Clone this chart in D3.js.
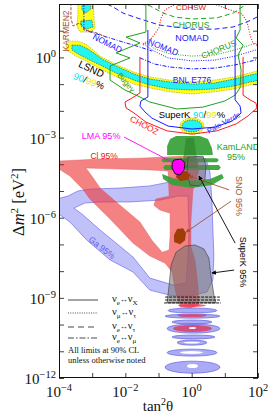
<!DOCTYPE html>
<html><head><meta charset="utf-8">
<script src="https://cdn.jsdelivr.net/npm/d3@7"></script>
<style>
html,body{margin:0;padding:0;background:#fff;}
svg{display:block;}
</style></head><body>
<svg id="c" width="268" height="417"></svg>
<script>
// ---- DATA: all pairs are [log10(tan^2 theta), log10(dm^2 / eV^2)] ----
const xTickExps = [-4, -2, 0, 2];
const yTickExps = [-12, -9, -6, -3, 0];

const lsnd99 = [[-3.79,0.46],[-3.67,0.61],[-3.43,0.61],[-3.19,0.50],[-2.97,0.28],[-2.76,0.05],[-2.31,-0.25],[-1.74,-0.55],[-1.26,-0.73],[-0.65,-0.85],[0.01,-0.92],[0.67,-0.85],[1.28,-0.73],[1.76,-0.58],[2.05,-0.47],[2.05,-0.96],[1.76,-1.03],[1.28,-1.18],[0.67,-1.29],[0.01,-1.37],[-0.65,-1.29],[-1.26,-1.14],[-1.74,-1.00],[-2.31,-0.70],[-2.76,-0.43],[-3.19,-0.13],[-3.49,0.05],[-3.73,0.24]];
const lsnd90 = [[-3.61,0.46],[-3.37,0.46],[-3.13,0.32],[-2.91,0.13],[-2.70,-0.06],[-2.28,-0.32],[-1.74,-0.62],[-1.26,-0.81],[-0.65,-0.92],[0.01,-1.00],[0.67,-0.96],[1.28,-0.81],[1.76,-0.66],[2.05,-0.58],[2.05,-0.85],[1.76,-0.92],[1.28,-1.07],[0.67,-1.18],[0.01,-1.22],[-0.65,-1.18],[-1.26,-1.03],[-1.74,-0.85],[-2.28,-0.58],[-2.70,-0.32],[-3.07,-0.10],[-3.37,0.09],[-3.61,0.28]];
const lsndHigh99 = [[-3.43,2.1],[-2.97,2.1],[-2.94,1.40],[-2.91,1.10],[-3.04,0.95],[-3.37,0.95],[-3.46,1.18],[-3.43,1.63]];
const lsndHigh90a = [[-3.31,2.1],[-3.07,2.1],[-3.04,1.81],[-3.19,1.66],[-3.31,1.78]];
const lsndHigh90b = [[-3.34,1.36],[-3.01,1.40],[-2.97,1.14],[-3.19,1.06],[-3.34,1.18]];

// SuperK atmospheric [tanLo, tanHi, dmLo, dmHi]
const superKAtm99 = [-0.35, 0.37, -2.87, -2.27];
const superKAtm90 = [-0.29, 0.31, -2.79, -2.34];

// Solar: Ga 95% (outer + hole), Cl 95% (outer + hole)
const ga95Outer = [[-4.05,-5.30],[-3.73,-5.19],[-3.43,-5.00],[-3.07,-4.93],[-2.16,-4.89],[-1.26,-4.81],[-0.65,-4.66],[-0.23,-4.29],[-0.08,-3.84],[0.16,-3.69],[0.43,-3.80],[0.55,-4.29],[0.61,-5.34],[0.64,-6.46],[0.67,-7.40],[0.64,-8.33],[0.46,-8.78],[-0.05,-8.93],[-0.56,-8.93],[-1.26,-8.71],[-1.77,-8.03],[-2.46,-7.58],[-3.16,-6.84],[-3.67,-6.16],[-4.05,-5.83]];
const ga95Hole = [[-3.55,-5.64],[-3.22,-5.45],[-2.76,-5.41],[-1.86,-5.41],[-0.96,-5.34],[-0.41,-5.19],[-0.11,-5.19],[-0.08,-6.46],[-0.11,-7.58],[-0.17,-8.45],[-0.56,-8.52],[-1.26,-8.26],[-1.77,-7.47],[-2.76,-6.46],[-3.31,-5.86]];
const cl95Outer = [[-4.05,-3.88],[-2.76,-3.80],[-1.56,-3.77],[-0.80,-3.73],[-0.20,-3.69],[0.16,-3.77],[0.22,-4.21],[0.04,-4.96],[-0.02,-6.09],[-0.02,-7.10],[0.10,-7.58],[0.19,-8.52],[0.22,-9.27],[-0.05,-9.38],[-0.35,-9.34],[-0.50,-8.71],[-0.59,-8.03],[-0.80,-7.70],[-1.26,-7.43],[-1.77,-6.95],[-2.46,-6.05],[-3.07,-5.30],[-3.28,-4.93],[-3.67,-4.44],[-4.05,-4.14]];
const cl95Hole = [[-3.19,-4.14],[-2.16,-4.18],[-1.26,-4.21],[-0.71,-4.25],[-0.68,-5.19],[-1.08,-5.30],[-1.14,-5.53],[-0.96,-5.71],[-0.65,-5.83],[-0.65,-6.65],[-0.68,-7.21],[-0.89,-7.29],[-1.20,-6.84],[-1.56,-6.16],[-2.16,-5.53],[-2.76,-4.89],[-3.01,-4.44]];

// vacuum-oscillation islands [tanLo, tanHi, dmLo, dmHi]
const gaIslands = [[-0.71,0.76,-9.57,-9.38],[-0.80,0.85,-9.76,-9.61],[-0.59,0.61,-9.98,-9.83],[-0.74,0.85,-10.32,-9.98],[-0.59,0.70,-10.54,-10.39],[-0.44,0.46,-10.77,-10.58],[-0.74,0.76,-11.18,-10.92],[-0.80,0.85,-11.82,-11.37]];
const clIslands = [[-0.41,0.43,-9.34,-9.23],[-0.44,0.46,-9.72,-9.61],[-0.56,0.61,-10.28,-10.02]];
const islandHoles = [[-0.08,0.13,-10.17,-10.09],[-0.25,0.25,-10.71,-10.64],[-0.35,0.34,-11.10,-10.99],[-0.14,0.19,-11.63,-11.48]];

// SuperK solar 95%
const skSolarA = [[-0.11,-3.73],[0.34,-3.69],[0.43,-4.03],[0.40,-4.59],[0.22,-4.81],[-0.05,-4.78],[-0.14,-4.29]];
const skSolarB = [[-0.74,-9.19],[-0.68,-8.52],[-0.62,-7.77],[-0.47,-7.29],[-0.20,-7.06],[0.10,-7.02],[0.37,-7.17],[0.52,-7.51],[0.58,-8.15],[0.67,-8.89],[0.73,-9.19]];
const skLimits = [[-0.80,0.85,-8.97],[-0.80,0.85,-9.08],[-0.83,0.88,-9.19]];

// KamLAND 95%
const kamBlock = [[-0.65,-3.05],[-0.47,-2.94],[0.25,-2.94],[0.49,-3.05],[0.61,-3.39],[0.64,-3.65],[-0.74,-3.65],[-0.74,-3.32]];
const kamCore = [[-0.17,-3.02],[0.07,-3.02],[0.19,-4.14],[-0.29,-4.14]];
const kamStripe1 = [[-0.86,-3.77],[0.76,-3.77],[0.82,-3.84],[0.76,-3.92],[-0.86,-3.92],[-0.92,-3.84]];
const kamStripe2 = [[-0.80,-4.03],[0.82,-4.03],[0.88,-4.12],[0.82,-4.21],[-0.80,-4.21],[-0.86,-4.12]];
const kamArc = [[-0.89,-4.36],[-0.50,-4.55],[0.01,-4.62],[0.55,-4.55],[0.91,-4.36],[0.97,-4.51],[0.61,-4.78],[0.01,-4.89],[-0.59,-4.78],[-0.86,-4.55]];

const lma95 = [[-0.53,-3.84],[-0.32,-3.80],[-0.20,-3.95],[-0.23,-4.21],[-0.35,-4.40],[-0.50,-4.36],[-0.59,-4.14],[-0.59,-3.95]];
const sno95a = [[-0.44,-4.29],[-0.17,-4.25],[-0.02,-4.40],[-0.11,-4.59],[-0.35,-4.63],[-0.47,-4.48]];
const sno95b = [[-0.44,-6.42],[-0.26,-6.39],[-0.17,-6.57],[-0.20,-6.84],[-0.35,-6.99],[-0.53,-6.91],[-0.53,-6.65]];

// exclusion curves
const cdhswL = [[-1.47,0.46],[-1.20,0.73],[-0.99,1.10],[-0.92,1.48],[-0.80,1.78],[-0.59,1.93],[-0.41,2.05]];
const cdhswR = [[0.43,2.05],[0.76,1.96],[1.16,1.78],[1.52,1.63],[1.67,1.33],[1.76,0.84],[1.85,0.54],[2.05,0.39]];
const nomadTauE = [[-2.55,2.0],[-2.37,1.89],[-2.07,1.66],[-1.65,1.48],[-0.96,1.21],[0.01,1.06],[0.70,1.06],[1.25,1.14],[1.67,1.33],[1.97,1.51]];
const chorusTauE = [[-1.56,2.0],[-1.26,1.93],[-0.86,1.66],[-0.50,1.51],[0.01,1.44],[0.76,1.48],[1.25,1.66],[1.61,1.96]];
const chorusMuTau = [[-1.41,0.58],[-1.11,0.32],[-0.65,0.13],[0.01,0.05],[0.70,0.09],[1.31,0.28],[2.05,0.58]];
const nomadMuTau = [[-1.47,0.54],[-1.20,0.28],[-0.71,-0.02],[0.01,-0.13],[0.70,-0.10],[1.31,0.05],[2.05,0.32]];
const bnlE776 = [[-1.56,-0.02],[-1.11,-0.25],[-0.65,-0.36],[0.01,-0.43],[0.70,-0.40],[1.31,-0.28],[2.05,-0.06]];
const nomadEMu = [[-3.25,2.05],[-3.25,1.03],[-2.76,0.84],[-2.16,0.61],[-1.56,0.39],[-1.20,0.24]];
const karmen2 = [[-3.64,2.05],[-3.64,1.48],[-3.58,1.18],[-3.37,1.29],[-3.19,1.03],[-2.85,0.91],[-2.58,0.76]];
const bugey = [[-1.38,2.05],[-1.38,0.95],[-1.98,0.76],[-1.56,0.54],[-2.28,0.17],[-1.86,-0.02],[-2.46,-0.32],[-2.46,-0.85],[-2.01,-1.22],[-1.56,-1.48],[-1.26,-1.67],[-0.44,-1.93],[0.34,-1.86],[1.00,-1.63],[1.31,-1.41],[1.46,-1.14],[1.49,-0.47],[1.40,0.09],[1.55,0.46],[1.34,0.73],[1.46,1.03],[1.46,2.05]];
const chooz = [[-1.56,0.02],[-1.56,-1.33],[-1.80,-1.52],[-2.01,-1.67],[-1.98,-1.89],[-1.74,-2.08],[-1.38,-2.42],[-0.74,-2.75],[0.01,-2.87],[0.76,-2.75],[1.34,-2.49],[1.70,-2.19],[1.97,-1.89],[1.94,-1.71],[1.76,-1.59],[1.55,-1.41],[1.55,0.02]];
const paloVerde = [[-1.32,1.03],[-1.32,-1.48],[-1.53,-1.63],[-1.56,-1.82],[-1.41,-2.04],[-1.20,-2.27],[-0.71,-2.57],[0.01,-2.68],[0.70,-2.61],[1.22,-2.38],[1.49,-2.08],[1.46,-1.82],[1.31,-1.59],[1.31,1.03]];

// legend
const legendFlavours = [["e","X"],["μ","τ"],["e","τ"],["e","μ"]];
const noteLines = ["All limits at 90% CL", "unless otherwise noted"];

// ---- DRAWING ----
const svg = d3.select("#c");
const x = d3.scaleLog().domain([1e-4, 1e2]).range([59, 258]);
const y = d3.scaleLog().domain([1e-12, 1e2]).range([378, 4]);
const X = v => x(Math.pow(10, v)), Y = v => y(Math.pow(10, v));
const ln = d3.line().x(d => X(d[0])).y(d => Y(d[1]));
const ring = r => ln(r) + "Z";

svg.append("defs").append("clipPath").attr("id", "clip")
  .append("rect").attr("x", 59).attr("y", 4).attr("width", 199).attr("height", 374);
const g = svg.append("g").attr("clip-path", "url(#clip)");

function ell(b, fill, op, stroke, sw, dash) {
  const cx = (X(b[0]) + X(b[1])) / 2, cy = (Y(b[2]) + Y(b[3])) / 2;
  return g.append("ellipse").attr("cx", cx).attr("cy", cy)
    .attr("rx", Math.abs(X(b[1]) - X(b[0])) / 2).attr("ry", Math.abs(Y(b[2]) - Y(b[3])) / 2)
    .attr("fill", fill).attr("fill-opacity", op)
    .attr("stroke", stroke || "none").attr("stroke-width", sw || 0)
    .attr("stroke-dasharray", dash || null);
}

// Ga 95%
g.append("path").attr("d", ring(ga95Outer) + ring(ga95Hole)).attr("fill-rule", "evenodd")
  .attr("fill", "#6b6bf2").attr("fill-opacity", 0.42).attr("stroke", "#5a5ae6").attr("stroke-width", 0.6);
// Cl 95%
g.append("path").attr("d", ring(cl95Outer) + ring(cl95Hole)).attr("fill-rule", "evenodd")
  .attr("fill", "#ee3535").attr("fill-opacity", 0.62).attr("stroke", "#e05050").attr("stroke-width", 0.4);
// vacuum islands
gaIslands.forEach(b => ell(b, "#6e6eee", 0.58, "#4c4cd8", 0.6));
clIslands.forEach(b => ell(b, "#e03050", 0.75));
islandHoles.forEach(b => ell(b, "#ffffff", 1));

// KamLAND
[kamBlock, kamStripe1, kamStripe2, kamArc].forEach(r =>
  g.append("path").attr("d", ring(r)).attr("fill", "#36a036").attr("fill-opacity", 0.92));
g.append("path").attr("d", ring(kamCore)).attr("fill", "#1f7a1f").attr("fill-opacity", 0.5);

// SuperK solar 95%
[skSolarA, skSolarB].forEach(r =>
  g.append("path").attr("d", ring(r)).attr("fill", "#707070").attr("fill-opacity", 0.55)
    .attr("stroke", "#3a3a3a").attr("stroke-width", 0.6));
skLimits.forEach(d => g.append("line").attr("x1", X(d[0])).attr("x2", X(d[1])).attr("y1", Y(d[2])).attr("y2", Y(d[2]))
  .attr("stroke", "#000").attr("stroke-width", 0.9).attr("stroke-dasharray", "3,1"));

// SNO, LMA
[sno95a, sno95b].forEach(r => g.append("path").attr("d", ring(r)).attr("fill", "#a03c08"));
g.append("path").attr("d", ring(lma95)).attr("fill", "#ff00ff").attr("stroke", "#000").attr("stroke-width", 0.8);

// LSND
[lsnd99, lsndHigh99].forEach(r => g.append("path").attr("d", ring(r)).attr("fill", "#ffff1a")
  .attr("stroke", "#8a8a00").attr("stroke-width", 0.5).attr("stroke-dasharray", "1.5,1"));
[lsnd90, lsndHigh90a, lsndHigh90b].forEach(r => g.append("path").attr("d", ring(r)).attr("fill", "#22f4f4")
  .attr("stroke", "#222").attr("stroke-width", 0.5).attr("stroke-dasharray", "1.5,1"));

// SuperK atmospheric
ell(superKAtm99, "#ffff1a", 1, "#8a8a00", 0.6, "1.5,1");
ell(superKAtm90, "#22f4f4", 1, "#222", 0.6, "1.5,1");

// exclusion curves
function curve(data, color, dash, w) {
  g.append("path").attr("d", ln(data)).attr("fill", "none").attr("stroke", color)
    .attr("stroke-width", w || 1).attr("stroke-dasharray", dash || null);
}
curve(cdhswL, "#e81010", "1,1.6", 1.1);
curve(cdhswR, "#e81010", "1,1.6", 1.1);
curve(nomadTauE, "#1a1aff", "5,3");
curve(chorusTauE, "#22a022", "5,3");
curve(chorusMuTau, "#22a022", "1,1.4");
curve(nomadMuTau, "#1a1aff", "1,1.4");
curve(bnlE776, "#1a1aff", "4,1.5,1,1.5");
curve(nomadEMu, "#1a1aff", "4,1.5,1,1.5");
curve(karmen2, "#a0522d", "3,1.5");
curve(bugey, "#22a022", null, 1);
curve(chooz, "#ff1a1a", null, 1);
curve(paloVerde, "#1a1aff", null, 1);

// labels (anchored in data coordinates)
const sans = "Liberation Sans, Arial, sans-serif";
function lab(lx, ly, parts, size, rot, anchor) {
  const t = g.append("text").attr("transform", `translate(${X(lx)},${Y(ly)}) rotate(${rot || 0})`)
    .attr("text-anchor", anchor || "middle").style("font-family", sans).style("font-size", size + "px");
  parts.forEach(p => t.append("tspan").text(p[0]).attr("fill", p[1]));
  return t;
}
lab(-0.02, 1.78, [["CDHSW", "#e81010"]], 8);
lab(-0.02, 1.10, [["CHORUS", "#22a022"]], 8.5);
lab(0.01, 0.61, [["NOMAD", "#1a1aff"]], 9);
lab(-2.58, 0.43, [["NOMAD", "#1a1aff"]], 8.5, 27);
lab(-0.89, 0.28, [["NOMAD", "#1a1aff"]], 8.5, 22);
lab(0.85, 0.20, [["CHORUS", "#22a022"]], 8.5, -22);
lab(0.01, -0.96, [["BNL E776", "#1a1aff"]], 8.5);
lab(0.01, -2.27, [["SuperK ", "#000"], ["90", "#00e4f0"], ["/", "#000"], ["99", "#e6e600"], ["%", "#000"]], 9.5);
lab(1.00, -2.53, [["Palo Verde", "#1a1aff"]], 7.5, -28);
lab(-1.47, -2.64, [["CHOOZ", "#ff1a1a"]], 8.5, 28);
lab(-2.04, -1.00, [["Bugey", "#22a022"]], 8, 50);
lab(-3.07, -0.55, [["LSND", "#000"]], 10, 25);
lab(-3.13, -1.00, [["90", "#00e4f0"], ["/", "#000"], ["99", "#e6e600"], ["%", "#000"]], 9.5, 20);
lab(-3.70, 0.99, [["KARMEN2", "#a0522d"]], 8.5, -90);
lab(-2.73, -3.05, [["LMA 95%", "#ff00ff"]], 9);
lab(-2.64, -3.80, [["Cl 95%", "#ee1010"]], 8.5);
lab(-2.76, -7.21, [["Ga 95%", "#5a5ae6"]], 8.5, 38);
lab(1.40, -3.47, [["KamLAND", "#22a022"]], 9);
lab(1.34, -3.84, [["95%", "#22a022"]], 9);
lab(1.34, -5.19, [["SNO 95%", "#a0522d"]], 9, 90);
lab(1.46, -7.66, [["SuperK 95%", "#000"]], 9, 90);

// leader lines
const defs = svg.select("defs");
function marker(id, color) {
  defs.append("marker").attr("id", id).attr("viewBox", "0 0 10 10").attr("refX", 9).attr("refY", 5)
    .attr("markerWidth", 5).attr("markerHeight", 5).attr("orient", "auto")
    .append("path").attr("d", "M0,0L10,5L0,10Z").attr("fill", color);
}
marker("ak", "#000"); marker("ab", "#a0522d");
function leader(a, b, color, mk) {
  g.append("line").attr("x1", X(a[0])).attr("y1", Y(a[1])).attr("x2", X(b[0])).attr("y2", Y(b[1]))
    .attr("stroke", color).attr("stroke-width", 0.9).attr("marker-end", mk ? `url(#${mk})` : null);
}
leader([-2.04, -2.98], [-0.59, -3.92], "#ff00ff");
leader([1.13, -4.96], [-0.08, -4.44], "#a0522d", "ab");
leader([1.19, -5.38], [-0.17, -6.54], "#a0522d", "ab");
leader([1.31, -6.95], [0.22, -4.44], "#000", "ak");
leader([1.28, -7.96], [0.61, -8.07], "#000", "ak");

// ---- AXES ----
const dec = d3.range(-4, 3).map(e => Math.pow(10, e));
const decY = d3.range(-12, 3).map(e => Math.pow(10, e));
const axB = svg.append("g").attr("transform", "translate(0,378)").call(d3.axisBottom(x).tickValues(dec).tickSize(-5).tickFormat(""));
const axT = svg.append("g").attr("transform", "translate(0,4)").call(d3.axisTop(x).tickValues(dec).tickSize(-5).tickFormat(""));
const axL = svg.append("g").attr("transform", "translate(59,0)").call(d3.axisLeft(y).tickValues(decY).tickSize(-5).tickFormat(""));
const axR = svg.append("g").attr("transform", "translate(258,0)").call(d3.axisRight(y).tickValues(decY).tickSize(-5).tickFormat(""));
[axB, axT, axL, axR].forEach(a => { a.select(".domain").remove(); a.selectAll("line").attr("stroke", "#444"); });
svg.append("rect").attr("x", 59.5).attr("y", 4.5).attr("width", 198).attr("height", 373)
  .attr("fill", "none").attr("stroke", "#111").attr("stroke-width", 1);

const serif = "Liberation Serif, Times New Roman, serif";
xTickExps.forEach(e => {
  const t = svg.append("text").attr("x", x(Math.pow(10, e))).attr("y", 397).attr("text-anchor", "middle")
    .style("font-family", serif).style("font-size", "15px").attr("fill", "#111");
  t.append("tspan").text("10");
  t.append("tspan").text(e < 0 ? "\u2212" + (-e) : String(e)).attr("dy", -6).style("font-size", "10.5px");
});
yTickExps.forEach(e => {
  const t = svg.append("text").attr("x", 56).attr("y", y(Math.pow(10, e)) + 6).attr("text-anchor", "end")
    .style("font-family", serif).style("font-size", "15px").attr("fill", "#111");
  t.append("tspan").text("10");
  t.append("tspan").text(e < 0 ? "\u2212" + (-e) : String(e)).attr("dy", -6).style("font-size", "10.5px");
});

// axis titles
const xt = svg.append("text").attr("x", 158).attr("y", 411).attr("text-anchor", "middle")
  .style("font-family", serif).style("font-size", "15px").attr("fill", "#111");
xt.append("tspan").text("tan");
xt.append("tspan").text("2").attr("dy", -6).style("font-size", "10px");
xt.append("tspan").text("θ").attr("dy", 6);

const yt = svg.append("text").attr("transform", "translate(24,202) rotate(-90)").attr("text-anchor", "middle")
  .style("font-family", serif).style("font-size", "16.5px").attr("fill", "#111");
yt.append("tspan").text("Δ");
yt.append("tspan").text("m").style("font-style", "italic");
yt.append("tspan").text("2").attr("dy", -6).style("font-size", "11px");
yt.append("tspan").text(" [eV").attr("dy", 6);
yt.append("tspan").text("2").attr("dy", -6).style("font-size", "11px");
yt.append("tspan").text("]").attr("dy", 6);

// ---- LEGEND ----
const dashes = [null, "1,1.3", "6,4", "6,2,1.5,2"];
const rowsY = [300, 313, 327, 338];
legendFlavours.forEach((f, i) => {
  svg.append("line").attr("x1", 68).attr("x2", 98).attr("y1", rowsY[i]).attr("y2", rowsY[i])
    .attr("stroke", "#333").attr("stroke-width", 0.9).attr("stroke-dasharray", dashes[i]);
  const t = svg.append("text").attr("x", 112).attr("y", rowsY[i] + 2)
    .style("font-family", serif).style("font-size", "10.5px").attr("fill", "#111");
  t.append("tspan").text("ν");
  t.append("tspan").text(f[0]).attr("dy", 3).style("font-size", "7px");
  t.append("tspan").text("↔").attr("dy", -3).style("font-size", "8px");
  t.append("tspan").text("ν");
  t.append("tspan").text(f[1]).attr("dy", 3).style("font-size", "7px");
});
noteLines.forEach((s, i) => svg.append("text").attr("x", 68).attr("y", 353 + i * 10)
  .style("font-family", serif).style("font-size", "8.5px").attr("fill", "#111").text(s));
</script>
</body></html>
